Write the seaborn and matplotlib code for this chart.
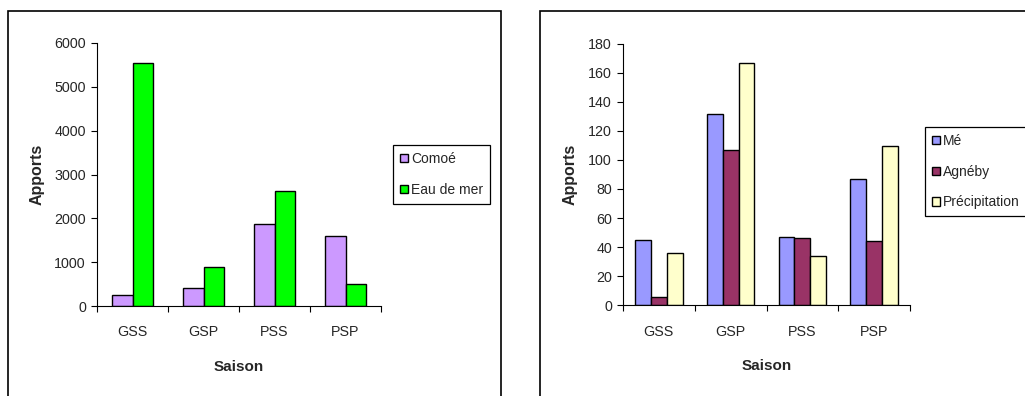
import matplotlib
matplotlib.use("Agg")
import matplotlib.pyplot as plt
from matplotlib.patches import Rectangle
from matplotlib.ticker import FixedLocator, MultipleLocator
import pandas as pd
import seaborn as sns

# Seasons and contributions
saisons = ["GSS", "GSP", "PSS", "PSP"]

comoe = [255, 410, 1880, 1590]
eau_de_mer = [5550, 880, 2625, 510]

me = [45, 131.5, 47.3, 86.5]
agneby = [5.7, 107, 46, 44]
precipitation = [36, 166.4, 33.7, 109.2]

left_series = {"Comoé": comoe, "Eau de mer": eau_de_mer}
right_series = {"Mé": me, "Agnéby": agneby, "Précipitation": precipitation}
left_colors = ["#CC99FF", "#00FF00"]
right_colors = ["#9999FF", "#993366", "#FFFFCC"]

sns.set_style("white")
plt.rcParams["font.family"] = ["Liberation Sans", "DejaVu Sans"]
plt.rcParams["font.size"] = 10

W, H = 1025, 396
fig = plt.figure(figsize=(W / 100, H / 100), dpi=100)


def long_frame(series):
    rows = []
    for name, vals in series.items():
        for s, v in zip(saisons, vals):
            rows.append({"Saison": s, "Apports": v, "Source": name})
    return pd.DataFrame(rows)


def px_axes(x0, y0, x1, y1):
    return fig.add_axes([x0 / W, 1 - y1 / H, (x1 - x0) / W, (y1 - y0) / H])


def style_axes(ax, ymax, ystep, ylabel_x):
    ax.set_xlim(-0.5, 3.5)
    ax.set_ylim(0, ymax)
    ax.yaxis.set_major_locator(MultipleLocator(ystep))
    ax.xaxis.set_minor_locator(FixedLocator([-0.5, 0.5, 1.5, 2.5, 3.5]))
    for side in ("top", "right"):
        ax.spines[side].set_visible(False)
    for side in ("left", "bottom"):
        ax.spines[side].set_color("black")
        ax.spines[side].set_linewidth(0.8)
    ax.tick_params(axis="y", which="major", left=True, length=4, width=0.8,
                   pad=4, labelsize=10.3, color="black")
    ax.tick_params(axis="x", which="major", bottom=False, length=0, pad=14,
                   labelsize=10.3)
    ax.tick_params(axis="x", which="minor", bottom=True, length=4, width=0.8,
                   color="black")
    ax.set_xlabel("Saison", fontsize=11, fontweight="bold")
    ax.set_ylabel("Apports", fontsize=11.5, fontweight="bold")
    ax.xaxis.set_label_coords(0.5, -0.205)
    ax.yaxis.set_label_coords(ylabel_x, 0.5)
    ax.set_facecolor("white")


def style_legend(ax, x0, y0):
    handles, labels = ax.get_legend_handles_labels()
    leg = ax.legend(handles, labels, loc="upper left",
                    bbox_to_anchor=(x0 / W, 1 - y0 / H),
                    bbox_transform=fig.transFigure, borderaxespad=0,
                    fontsize=10, fancybox=False, framealpha=1,
                    edgecolor="black", handlelength=0.55, handleheight=0.55,
                    handletextpad=0.25, labelspacing=1.2, borderpad=0.5)
    leg.get_frame().set_linewidth(0.9)
    leg.set_clip_on(False)


# Left chart: Comoé / Eau de mer
ax1 = px_axes(97, 43, 381, 306)
sns.barplot(data=long_frame(left_series), x="Saison", y="Apports",
            hue="Source", palette=left_colors, width=0.59, edgecolor="black",
            linewidth=1.0, saturation=1, ax=ax1, errorbar=None)
style_axes(ax1, 6000, 1000, -0.185)
style_legend(ax1, 393, 145)

# Right chart: Mé / Agnéby / Précipitation
ax2 = px_axes(623, 43.5, 910, 305.3)
sns.barplot(data=long_frame(right_series), x="Saison", y="Apports",
            hue="Source", palette=right_colors, width=0.665, edgecolor="black",
            linewidth=1.0, saturation=1, ax=ax2, errorbar=None)
style_axes(ax2, 180, 20, -0.158)
style_legend(ax2, 925, 127)

# Chart area borders
for (x0, y0, x1, y1) in [(7.5, 11, 501, 420), (540, 11, 1040, 420)]:
    fig.patches.append(Rectangle((x0 / W, 1 - y1 / H), (x1 - x0) / W,
                                 (y1 - y0) / H, transform=fig.transFigure,
                                 fill=False, edgecolor="black", linewidth=1.2,
                                 clip_on=False))

fig.savefig("out.png", dpi=100, facecolor="white")
